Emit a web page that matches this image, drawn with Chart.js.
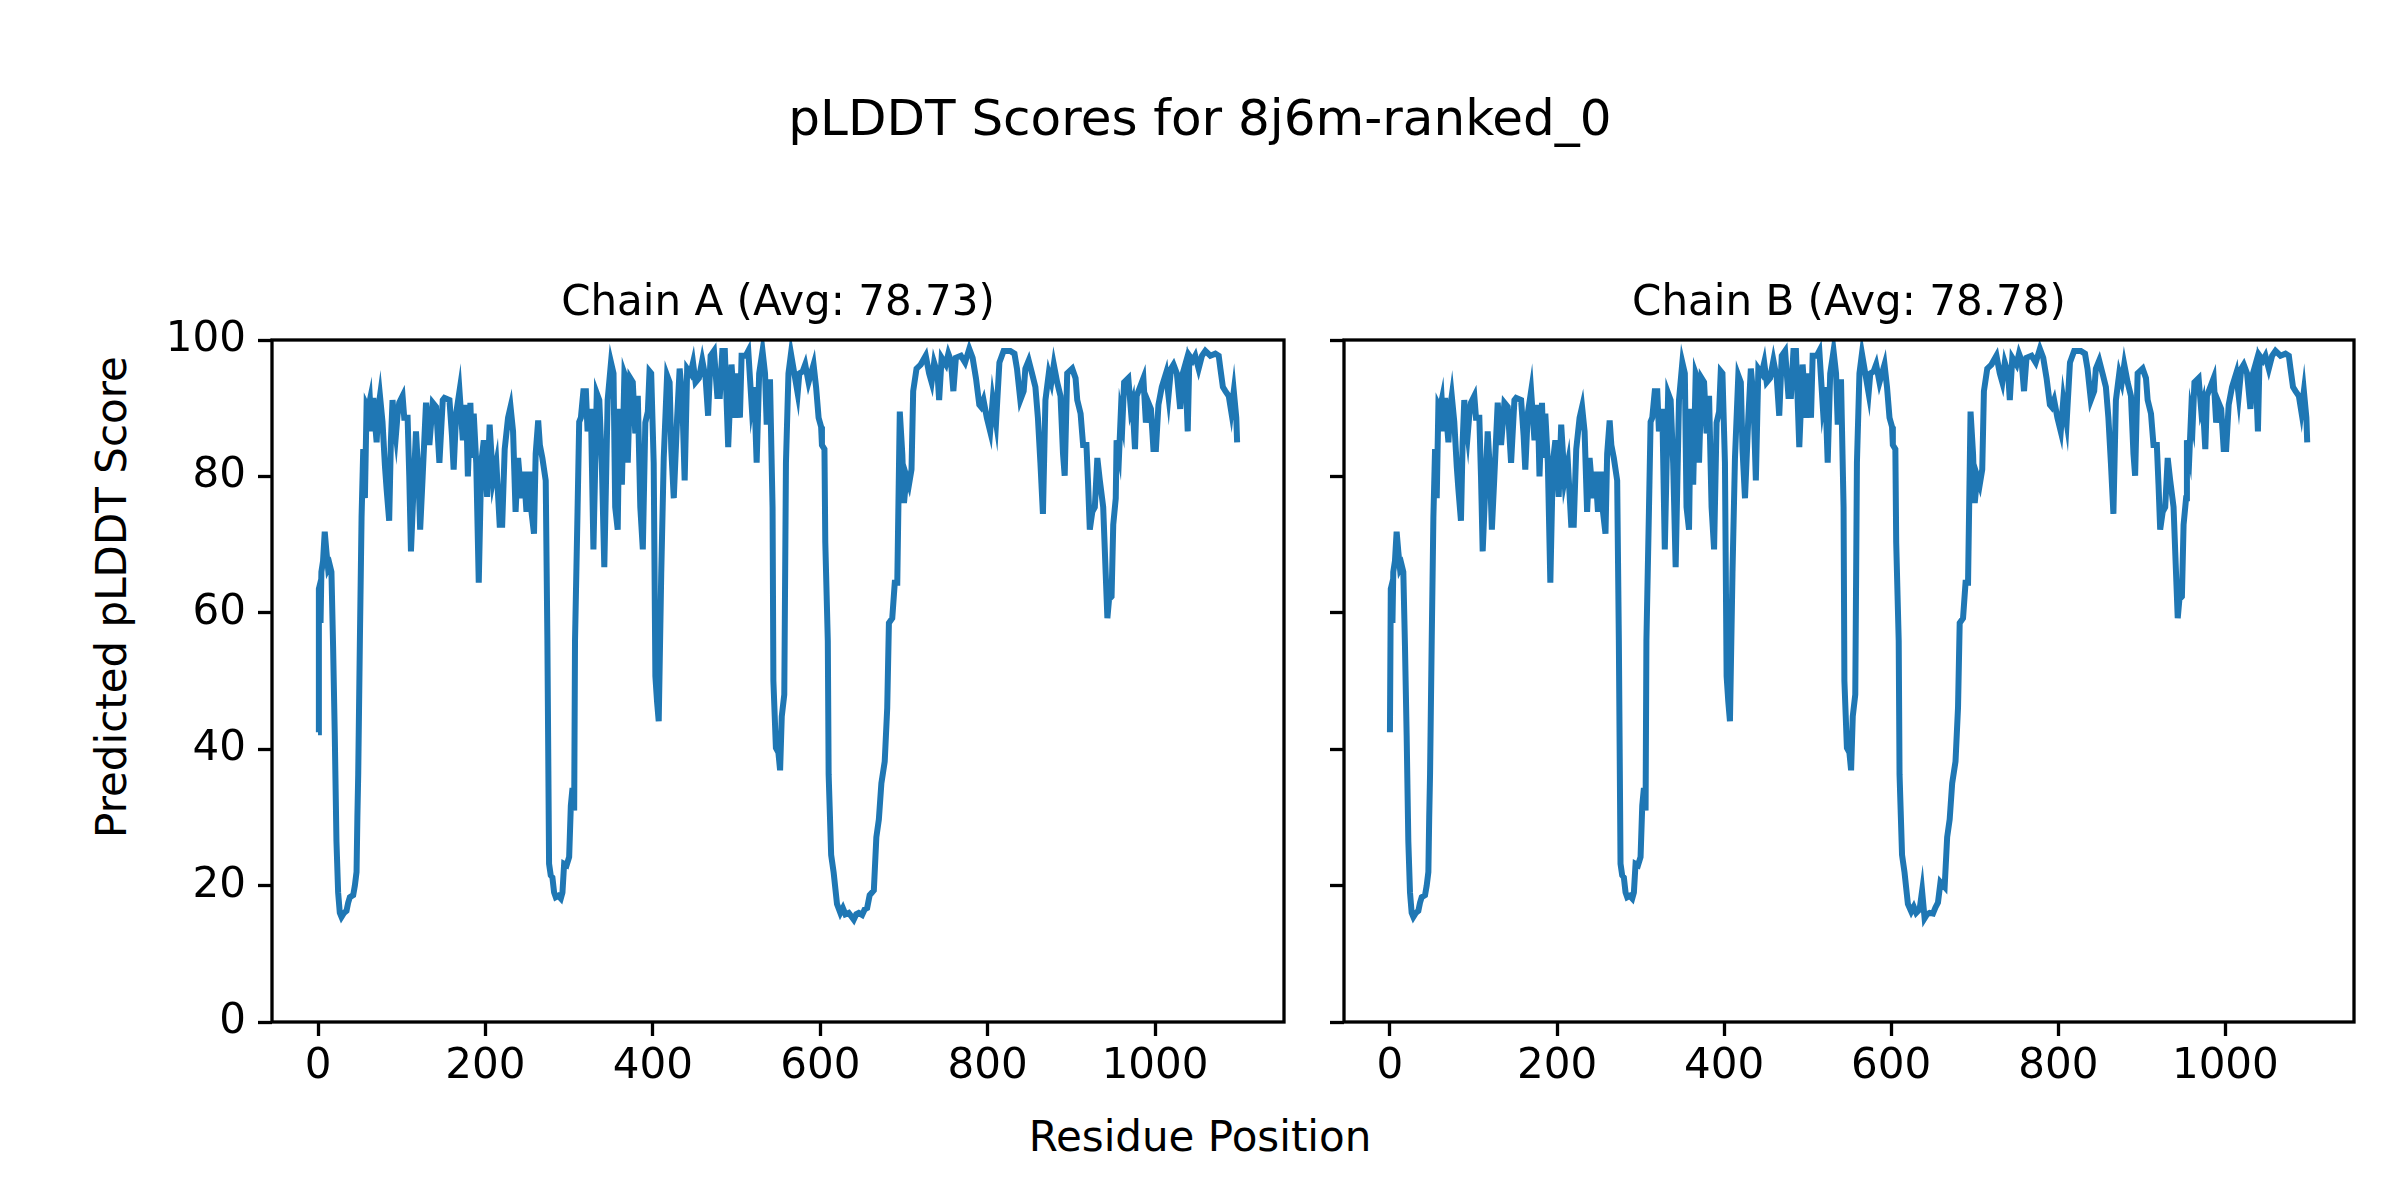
<!DOCTYPE html>
<html>
<head>
<meta charset="utf-8">
<script src="https://cdn.jsdelivr.net/npm/chart.js@4.4.1/dist/chart.umd.min.js"></script>
<style>
  body { margin: 0; background: #fff; width: 2400px; height: 1200px; position: relative; overflow: hidden; font-family: "DejaVu Sans", sans-serif; }
  canvas { position: absolute; top: 0; }
  .txt { position: absolute; white-space: nowrap; color: #000; line-height: 1; }
</style>
</head>
<body>
<div class="txt" style="left:0;width:2400px;text-align:center;top:93px;font-size:50px;">pLDDT Scores for 8j6m-ranked_0</div>
<div class="txt" style="left:0;width:2400px;text-align:center;top:1116px;font-size:42px;">Residue Position</div>
<div class="txt" style="left:112px;top:597px;font-size:42px;transform:translate(-50%,-50%) rotate(-90deg);">Predicted pLDDT Score</div>
<canvas id="chainA" width="1300" height="1200" style="left:0"></canvas>
<canvas id="chainB" width="1100" height="1200" style="left:1300px"></canvas>
<script>
// residue positions
const residues = [
  0,1,2,3,4,6,8,10,12,14,
  16,18,20,22,24,26,28,31,34,36,
  38,42,44,46,47,48,50,52,54,56,
  58,60,62,64,66,68,70,72,74,77,
  80,82,85,87,89,91,93,95,97,101,
  103,107,109,111,114,117,120,122,125,129,
  133,137,141,145,149,151,157,160,162,165,
  169,173,177,179,182,184,186,189,192,195,
  198,202,205,209,213,217,220,223,227,230,
  233,236,239,243,246,249,253,255,258,260,
  263,265,268,272,274,276,278,280,282,284,
  287,290,292,294,297,300,302,304,306,307,
  310,312,314,317,320,322,326,329,333,336,
  339,342,346,350,353,355,358,360,363,366,
  368,370,373,376,379,382,385,388,391,394,
  396,398,401,403,405,407,410,413,417,420,
  422,425,429,432,435,438,441,445,448,451,
  455,459,463,466,469,473,477,480,483,486,
  490,494,498,501,504,506,511,514,518,521,
  524,527,531,534,536,538,540,543,544,547,
  550,552,554,557,559,562,565,569,573,575,
  579,582,586,592,595,598,601,602,605,606,
  609,610,613,616,620,624,627,630,634,637,
  640,643,646,650,653,656,659,664,667,670,
  673,677,680,682,686,689,692,695,698,700,
  703,706,709,711,715,720,726,730,733,736,
  740,742,745,750,753,756,759,762,768,773,
  778,782,786,790,792,795,799,803,806,810,
  814,819,827,832,835,839,843,845,849,853,
  857,860,863,866,869,873,876,879,883,887,
  890,892,895,901,905,907,911,914,918,920,
  922,925,928,931,934,938,941,943,945,948,
  950,953,954,957,959,961,963,968,971,973,
  976,978,982,986,989,992,995,998,1001,1004,
  1008,1013,1016,1019,1022,1026,1030,1033,1036,1039,
  1041,1045,1048,1052,1056,1060,1066,1072,1076,1078,
  1081,1084,1088,1091,1094,1097,1098
];

const chainA = [
  42.5,63.5,64,58.5,66,67.6,71.9,69,66.5,67,
  66,55,42,26.5,19,16,15.4,16,16.3,17.5,
  18.3,18.6,20,22,30,36.3,56,74,84,76.8,
  90.5,90,91.2,86.6,91.5,88,85,90,91.8,88,
  81.4,78,73.5,85,91.2,88,86,89,90.8,91.8,
  88.6,88.6,80,69,78,86.6,80,72.2,80,90.8,
  84.6,90.8,90.2,82,91.2,91.5,91.2,86,81,89.2,
  92.5,85.3,90.5,80,90.8,82.7,89.2,82,64.4,82,
  85.3,77,87.6,79.4,82,72.9,72.9,84,88.6,90.2,
  86.6,74.8,82.7,76.8,80.7,74.8,80.7,74.8,71.6,83.3,
  88.2,84.6,82.7,79.4,56,23.2,21.5,21.2,19,18.3,
  18.5,18.1,19,23.2,23,24.2,31.7,34.3,31,55.9,
  74.8,88,88.6,92.5,92.5,86.6,89.9,69.3,92.2,91.2,
  82,66.7,91.2,96.7,95.1,75.5,72.2,89.9,78.8,95.1,
  94.4,82,94.4,93.8,86.3,91.8,75.5,69.3,87.9,89.5,
  95.4,95.1,82,50.7,47,44.1,65.7,82.7,94.8,93.8,
  84,76.8,88.6,95.8,91.8,79.4,95.8,95.1,96.7,93.8,
  94.4,97,94.4,88.9,97.7,98.4,91.8,91.8,98.4,98.4,
  84.3,96.4,88.6,95.1,88.6,97.7,97.7,98.4,90.5,93.1,
  82,95.1,98.4,95.1,87.6,93.8,93.8,75.5,50,40.2,
  39.5,36.9,44.8,48,82,95.1,98,95.1,92.2,95.1,
  95.4,96.4,93.8,96.4,93.1,88.6,87.3,84.6,84,70.3,
  55.9,36.3,24.5,21.9,17.3,16,16.7,15.8,16,15.5,
  15,15.8,16,15.7,16.5,16.7,18.6,19.3,27.1,29.7,
  35,38.2,46.1,58.5,59.2,64.4,64.4,89.5,83.3,76.1,
  80,78.8,81,92.5,95.8,96.4,97.7,95.1,93.8,96.7,
  95.1,91.2,97.4,96.4,98,97,92.5,97.4,97.7,96.7,
  98.7,97.4,94.4,90.5,90.2,91.2,88.6,86.6,91.2,87.9,
  96.7,98.4,98.4,98,95.8,91.2,92.5,95.8,97,95.1,
  93.1,88.6,82,74.5,91.2,95.1,93.8,96.4,93.8,91.8,
  83.3,80.1,95.1,95.8,94.4,91.2,89.2,84.6,84.6,78.8,
  72.2,74.8,75.5,82.7,79.4,75.5,65.7,59.2,62,62.4,
  72.9,76.8,85.3,83.3,89.2,87.9,93.8,94.4,89.9,90.8,
  84,91.8,93.1,94.4,87.9,90.8,89.9,84,84,90.5,
  93.1,95.1,91.8,95.8,96.4,95.1,89.9,95.1,96.4,86.6,
  97.7,97,97.7,95.8,97.7,98.4,97.7,98,97.7,95.8,
  93.1,92.5,91.8,89.5,92.5,88.6,85
];

const chainB = [
  42.5,63.5,64,58.5,66,67.6,71.9,69,66.5,67,
  66,55,42,26.5,19,16,15.4,16,16.3,17.5,
  18.3,18.6,20,22,30,36.3,56,74,84,76.8,
  90.5,90,91.2,86.6,91.5,88,85,90,91.8,88,
  81.4,78,73.5,85,91.2,88,86,89,90.8,91.8,
  88.6,88.6,80,69,78,86.6,80,72.2,80,90.8,
  84.6,90.8,90.2,82,91.2,91.5,91.2,86,81,89.2,
  92.5,85.3,90.5,80,90.8,82.7,89.2,82,64.4,82,
  85.3,77,87.6,79.4,82,72.9,72.9,84,88.6,90.2,
  86.6,74.8,82.7,76.8,80.7,74.8,80.7,74.8,71.6,83.3,
  88.2,84.6,82.7,79.4,56,23.2,21.5,21.2,19,18.3,
  18.5,18.1,19,23.2,23,24.2,31.7,34.3,31,55.9,
  74.8,88,88.6,92.5,92.5,86.6,89.9,69.3,92.2,91.2,
  82,66.7,91.2,96.7,95.1,75.5,72.2,89.9,78.8,95.1,
  94.4,82,94.4,93.8,86.3,91.8,75.5,69.3,87.9,89.5,
  95.4,95.1,82,50.7,47,44.1,65.7,82.7,94.8,93.8,
  84,76.8,88.6,95.8,91.8,79.4,95.8,95.1,96.7,93.8,
  94.4,97,94.4,88.9,97.7,98.4,91.8,91.8,98.4,98.4,
  84.3,96.4,88.6,95.1,88.6,97.7,97.7,98.4,90.5,93.1,
  82,95.1,98.4,95.1,87.6,93.8,93.8,75.5,50,40.2,
  39.5,36.9,44.8,48,82,95.1,98,95.1,92.2,95.1,
  95.4,96.4,93.8,96.4,93.1,88.6,87.3,84.6,84,70.3,
  55.9,36.3,24.5,21.9,17.3,16.2,16.9,16,16.5,19.2,
  15.2,15.8,16,15.9,16.8,17.5,20.5,19.8,27.1,29.7,
  35,38.2,46.1,58.5,59.2,64.4,64.4,89.5,83.3,76.1,
  80,78.8,81,92.5,95.8,96.4,97.7,95.1,93.8,96.7,
  95.1,91.2,97.4,96.4,98,97,92.5,97.4,97.7,96.7,
  98.7,97.4,94.4,90.5,90.2,91.2,88.6,86.6,91.2,87.9,
  96.7,98.4,98.4,98,95.8,91.2,92.5,95.8,97,95.1,
  93.1,88.6,82,74.5,91.2,95.1,93.8,96.4,93.8,91.8,
  83.3,80.1,95.1,95.8,94.4,91.2,89.2,84.6,84.6,78.8,
  72.2,74.8,75.5,82.7,79.4,75.5,65.7,59.2,62,62.4,
  72.9,76.8,85.3,83.3,89.2,87.9,93.8,94.4,89.9,90.8,
  84,91.8,93.1,94.4,87.9,90.8,89.9,84,84,90.5,
  93.1,95.1,91.8,95.8,96.4,95.1,89.9,95.1,96.4,86.6,
  97.7,97,97.7,95.8,97.7,98.4,97.7,98,97.7,95.8,
  93.1,92.5,91.8,89.5,92.5,88.6,85
];

const xTicks = [0, 200, 400, 600, 800, 1000];
const yTicks = [0, 20, 40, 60, 80, 100];
const titles = ["Chain A (Avg: 78.73)", "Chain B (Avg: 78.78)"];

const FONT = "'DejaVu Sans', sans-serif";

// box around the plot area + subplot title
const framePlugin = {
  id: "frame",
  afterDraw(chart, args, opts) {
    const a = chart.chartArea;
    const ctx = chart.ctx;
    ctx.save();
    ctx.strokeStyle = "#000";
    ctx.lineWidth = 3.3;
    ctx.strokeRect(a.left, a.top, a.right - a.left, a.bottom - a.top);
    ctx.fillStyle = "#000";
    ctx.font = "42px " + FONT;
    ctx.textAlign = "center";
    ctx.textBaseline = "alphabetic";
    ctx.fillText(opts.text, (a.left + a.right) / 2, a.top - 25);
    ctx.restore();
  }
};

function makeChart(id, values, title, showYLabels, yAxisWidth, padLeft, padRight) {
  const pts = residues.map((r, i) => ({ x: r, y: values[i] }));
  return new Chart(document.getElementById(id), {
    type: "line",
    data: {
      datasets: [{
        data: pts,
        borderColor: "#1f77b4",
        borderWidth: 6,
        pointRadius: 0,
        tension: 0,
        fill: false
      }]
    },
    options: {
      responsive: false,
      devicePixelRatio: 1,
      animation: false,
      layout: { padding: { left: padLeft, right: padRight, top: 340, bottom: 98 } },
      plugins: { legend: { display: false }, tooltip: { enabled: false }, frame: { text: title } },
      scales: {
        x: {
          type: "linear",
          min: -55,
          max: 1154,
          afterBuildTicks: s => { s.ticks = xTicks.map(v => ({ value: v })); },
          afterFit: s => { s.height = 80; },
          grid: { drawOnChartArea: false, drawTicks: true, tickLength: 14, tickColor: "#000", tickWidth: 3.3 },
          border: { display: false },
          ticks: { color: "#000", font: { family: FONT, size: 42 }, padding: 6, maxRotation: 0, callback: v => String(v) }
        },
        y: {
          min: 0,
          max: 100,
          afterBuildTicks: s => { s.ticks = yTicks.map(v => ({ value: v })); },
          afterFit: s => { s.width = yAxisWidth; },
          grid: { drawOnChartArea: false, drawTicks: true, tickLength: 14, tickColor: "#000", tickWidth: 3.3 },
          border: { display: false },
          ticks: {
            color: "#000",
            font: { family: FONT, size: 42 },
            padding: 12,
            callback: v => showYLabels ? String(v) : ""
          }
        }
      }
    },
    plugins: [framePlugin]
  });
}

makeChart("chainA", chainA, titles[0], true, 130, 142, 16);
makeChart("chainB", chainB, titles[1], false, 30, 14, 46);
</script>
</body>
</html>
